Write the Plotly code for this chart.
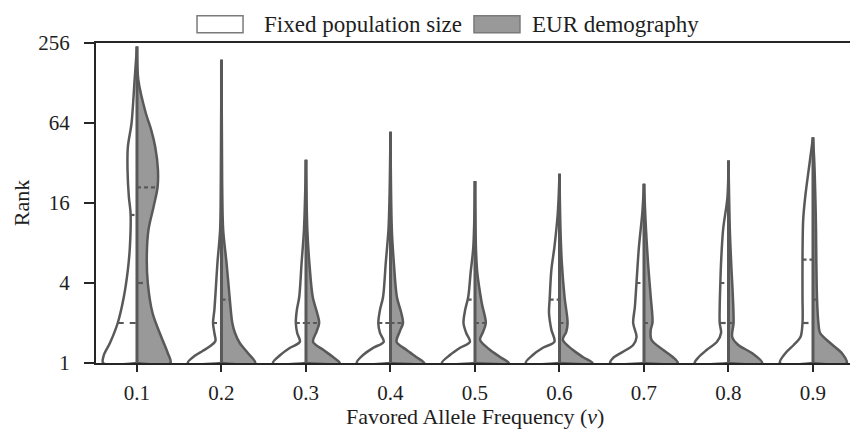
import numpy as np
import plotly.graph_objects as go

# Favored allele frequency categories
freq_labels = ["0.1", "0.2", "0.3", "0.4", "0.5", "0.6", "0.7", "0.8", "0.9"]

# Rank axis ticks (log2 scale)
rank_ticks = [1, 4, 16, 64, 256]

# Half-violin profiles: breakpoints in log2(rank) and relative density (1 = widest)
fixed_levels = [
    [0, 0.2, 0.5, 1.0, 1.65, 2.33, 2.9, 3.75, 4.15, 4.83, 5.4, 6.0, 7.08, 7.91],
    [0, 0.18, 0.3, 0.43, 0.55, 0.75, 1.0, 1.33, 1.83, 2.5, 3.33, 4.5, 7.58],
    [0, 0.2, 0.38, 0.53, 0.75, 1.0, 1.33, 1.65, 2.5, 3.33, 5.08],
    [0, 0.2, 0.38, 0.53, 0.75, 1.0, 1.33, 1.65, 2.5, 3.33, 4.08, 5.78],
    [0, 0.2, 0.38, 0.53, 0.75, 1.0, 1.33, 1.65, 2.25, 2.9, 4.55],
    [0, 0.2, 0.38, 0.53, 0.83, 1.25, 1.6, 2.33, 2.9, 3.75, 4.73],
    [0, 0.13, 0.28, 0.45, 0.65, 1.0, 1.4, 2.03, 2.9, 3.75, 4.48],
    [0, 0.15, 0.33, 0.53, 0.75, 1.0, 1.4, 2.03, 2.5, 3.33, 4.15, 5.06],
    [0, 0.25, 0.45, 0.65, 1.0, 1.65, 2.6, 3.58, 4.15, 5.0, 5.64],
]
fixed_density = [
    [1.0, 0.98, 0.80, 0.57, 0.39, 0.27, 0.21, 0.19, 0.24, 0.28, 0.27, 0.16, 0.07, 0],
    [1.0, 0.79, 0.56, 0.32, 0.18, 0.21, 0.25, 0.21, 0.17, 0.12, 0.04, 0.02, 0],
    [0.98, 0.76, 0.47, 0.18, 0.26, 0.30, 0.27, 0.20, 0.13, 0.06, 0],
    [1.0, 0.81, 0.51, 0.20, 0.31, 0.36, 0.31, 0.22, 0.14, 0.06, 0.03, 0],
    [0.98, 0.74, 0.44, 0.15, 0.26, 0.34, 0.29, 0.20, 0.13, 0.05, 0],
    [1.0, 0.79, 0.49, 0.15, 0.24, 0.31, 0.29, 0.24, 0.15, 0.05, 0],
    [1.0, 0.91, 0.62, 0.32, 0.22, 0.32, 0.27, 0.22, 0.15, 0.05, 0],
    [1.0, 0.88, 0.64, 0.34, 0.22, 0.26, 0.26, 0.24, 0.22, 0.16, 0.03, 0],
    [0.98, 0.81, 0.57, 0.37, 0.31, 0.31, 0.31, 0.29, 0.23, 0.10, 0],
]
eur_levels = [
    [0, 0.25, 0.65, 1.25, 2.0, 2.65, 3.33, 3.9, 4.4, 4.83, 5.4, 5.83, 6.25, 7.08, 7.91],
    [0, 0.25, 0.5, 0.75, 1.0, 1.65, 2.5, 3.33, 4.5, 7.58],
    [0, 0.15, 0.33, 0.53, 0.78, 1.0, 1.25, 1.65, 2.5, 3.33, 5.08],
    [0, 0.15, 0.33, 0.53, 0.78, 1.0, 1.25, 1.65, 2.5, 3.33, 5.78],
    [0, 0.15, 0.33, 0.58, 0.78, 1.0, 1.5, 2.25, 2.83, 4.55],
    [0, 0.15, 0.33, 0.58, 0.78, 1.0, 1.65, 2.5, 3.33, 4.73],
    [0, 0.15, 0.33, 0.58, 0.83, 1.0, 1.15, 1.65, 2.5, 3.33, 4.48],
    [0, 0.25, 0.45, 0.65, 1.0, 1.65, 2.5, 3.33, 5.06],
    [0, 0.25, 0.5, 0.75, 1.0, 1.6, 2.5, 3.33, 4.15, 5.0, 5.64],
]
eur_density = [
    [0.99, 0.91, 0.72, 0.46, 0.32, 0.29, 0.34, 0.49, 0.61, 0.62, 0.54, 0.42, 0.26, 0.04, 0],
    [1.0, 0.78, 0.54, 0.40, 0.32, 0.24, 0.15, 0.05, 0.02, 0],
    [1.0, 0.80, 0.51, 0.21, 0.31, 0.39, 0.33, 0.20, 0.10, 0.04, 0],
    [1.0, 0.76, 0.47, 0.18, 0.27, 0.37, 0.32, 0.19, 0.10, 0.04, 0],
    [1.0, 0.74, 0.44, 0.15, 0.24, 0.32, 0.20, 0.07, 0.03, 0],
    [0.98, 0.69, 0.39, 0.10, 0.20, 0.24, 0.15, 0.07, 0.03, 0],
    [1.0, 0.85, 0.56, 0.22, 0.20, 0.25, 0.25, 0.20, 0.12, 0.06, 0],
    [1.0, 0.69, 0.29, 0.11, 0.15, 0.13, 0.08, 0.04, 0],
    [1.0, 0.85, 0.51, 0.21, 0.16, 0.12, 0.10, 0.09, 0.07, 0.04, 0],
]

# Inner quartile markers (rank values)
fixed_median = [2, 1, 1, 1, 1, 1, 1, 2, 2]
fixed_q3 = [13, 2, 2, 2, 3, 3, 4, 4, 6]
eur_median = [4, 1, 1, 1, 1, 1, 1, 1, 1]
eur_q3 = [21, 3, 2, 2, 2, 2, 2, 2, 3]

HALF = 0.4
OUTLINE = "#595959"
AXIS = "#262626"
GRAY = "#999999"
FONT = "Liberation Serif"
TEXT = "#1e1e1e"

fig = go.Figure()


def half_violin(center, levels, density, side, fill):
    sign = -1 if side == "left" else 1
    xs = [center] + [center + sign * HALF * d for d in density]
    ys = [1.0] + [2.0 ** lv for lv in levels]
    fig.add_trace(go.Scatter(
        x=xs, y=ys, mode="lines", fill="toself", fillcolor=fill,
        line=dict(color=OUTLINE, width=2.5, shape="spline", smoothing=0.9),
        hoverinfo="skip", showlegend=False,
    ))


def inner_line(center, levels, density, side, value, dash):
    if value <= 1:
        return
    w = HALF * float(np.interp(np.log2(value), levels, density))
    if side == "left":
        xs = [center - w, center]
    else:
        xs = [center, center + w]
    fig.add_trace(go.Scatter(
        x=xs, y=[value, value], mode="lines",
        line=dict(color=OUTLINE, width=2.2, dash=dash),
        hoverinfo="skip", showlegend=False,
    ))


for i in range(len(freq_labels)):
    half_violin(i, fixed_levels[i], fixed_density[i], "left", "white")
    half_violin(i, eur_levels[i], eur_density[i], "right", GRAY)
    top = max(fixed_levels[i][-1], eur_levels[i][-1])
    fig.add_trace(go.Scatter(
        x=[i, i], y=[1, 2.0 ** top], mode="lines",
        line=dict(color=OUTLINE, width=3), hoverinfo="skip", showlegend=False,
    ))
    inner_line(i, fixed_levels[i], fixed_density[i], "left", fixed_q3[i], "4px,3px")
    inner_line(i, fixed_levels[i], fixed_density[i], "left", fixed_median[i], "6px,6px")
    inner_line(i, eur_levels[i], eur_density[i], "right", eur_q3[i], "4px,3px")
    inner_line(i, eur_levels[i], eur_density[i], "right", eur_median[i], "6px,6px")

# Legend drawn above the axes
legend_items = [
    ("Fixed population size", "white", 0.134, 0.195, 0.2202),
    ("EUR demography", GRAY, 0.5013, 0.5623, 0.5756),
]
for text, color, x0, x1, tx in legend_items:
    fig.add_shape(type="rect", xref="paper", yref="paper", x0=x0, x1=x1,
                  y0=1.032, y1=1.085, fillcolor=color,
                  line=dict(color="#7a7a7a", width=1.5))
    fig.add_annotation(xref="paper", yref="paper", x=tx, y=1.059,
                       text=text, showarrow=False, xanchor="left",
                       yanchor="middle", font=dict(family=FONT, size=23, color=TEXT))

# x-axis title placed under the tick labels
fig.add_annotation(xref="paper", yref="paper", x=0.5025, y=-0.168,
                   text="Favored Allele Frequency (<i>ν</i>)", showarrow=False,
                   xanchor="center", yanchor="middle",
                   font=dict(family=FONT, size=22, color=TEXT))

fig.update_layout(
    width=850, height=432,
    margin=dict(l=96, r=0, t=43, b=69),
    plot_bgcolor="white", paper_bgcolor="white",
    showlegend=False,
    font=dict(family=FONT, size=21, color=TEXT),
)
fig.update_xaxes(
    range=[-0.485, 8.438], tickvals=list(range(len(freq_labels))), ticktext=freq_labels,
    showline=True, linecolor=AXIS, linewidth=2, mirror=True,
    ticks="outside", ticklen=7, tickwidth=1.5, tickcolor=AXIS,
    showgrid=False, zeroline=False, ticklabelstandoff=3,
)
fig.update_yaxes(
    type="log", range=[0, np.log10(256)], tickvals=rank_ticks,
    ticktext=[str(t) for t in rank_ticks],
    showline=True, linecolor=AXIS, linewidth=2,
    ticks="outside", ticklen=10, tickwidth=1.5, tickcolor=AXIS,
    showgrid=False, zeroline=False, ticklabelstandoff=10,
    title=dict(text="Rank", standoff=3, font=dict(family=FONT, size=22, color=TEXT)),
)

fig.write_html("out.html")
